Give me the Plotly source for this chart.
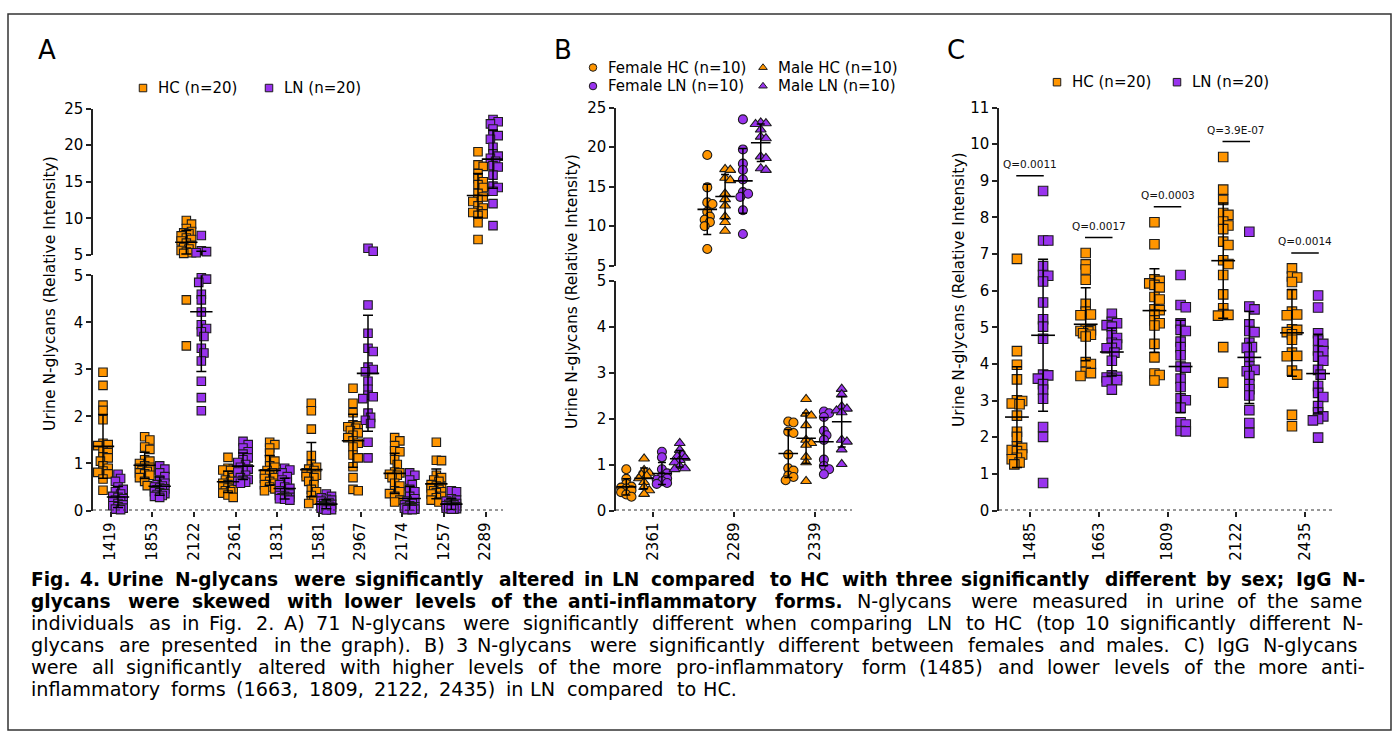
import numpy as np
import plotly.graph_objects as go

W, H = 1395, 741
FONT = "DejaVu Sans"
ORANGE = "#FF9500"
PURPLE = "#9933EE"
EDGE = "#1c1c1c"
AX = "#222222"

# ---------------- data : panel A ----------------
A_categories = ["1419", "1853", "2122", "2361", "1831", "1581", "2967", "2174", "1257", "2289"]
A_HC_1419 = [2.94, 2.66, 2.24, 2.13, 1.93, 1.43, 1.40, 1.38, 1.26, 1.23, 1.14, 1.12, 1.05, 0.95, 0.90, 0.84, 0.81, 0.78, 0.67, 0.43]
A_HC_1853 = [1.57, 1.50, 1.35, 1.30, 1.08, 1.05, 1.00, 0.95, 0.92, 0.90, 0.88, 0.86, 0.85, 0.83, 0.80, 0.78, 0.75, 0.70, 0.62, 0.53]
A_HC_2122 = [9.70, 9.20, 8.60, 8.20, 8.00, 7.90, 7.60, 7.30, 7.10, 6.90, 6.60, 6.30, 6.00, 5.80, 5.60, 5.40, 5.30, 5.20, 4.48, 3.50]
A_HC_2361 = [1.13, 0.90, 0.88, 0.86, 0.85, 0.75, 0.70, 0.65, 0.62, 0.58, 0.55, 0.52, 0.50, 0.48, 0.45, 0.42, 0.40, 0.37, 0.33, 0.28]
A_HC_1831 = [1.45, 1.40, 1.33, 1.22, 1.08, 1.05, 0.95, 0.92, 0.85, 0.80, 0.78, 0.75, 0.70, 0.68, 0.62, 0.58, 0.55, 0.50, 0.46, 0.42]
A_HC_1581 = [2.28, 2.12, 1.73, 1.17, 0.98, 0.92, 0.88, 0.85, 0.80, 0.77, 0.75, 0.72, 0.70, 0.62, 0.55, 0.45, 0.40, 0.32, 0.22, 0.15]
A_HC_2967 = [2.60, 2.28, 2.08, 1.82, 1.80, 1.78, 1.75, 1.70, 1.65, 1.60, 1.55, 1.48, 1.43, 1.35, 1.18, 1.12, 0.93, 0.70, 0.45, 0.42]
A_HC_2174 = [1.55, 1.48, 1.38, 1.27, 1.25, 1.08, 0.98, 0.82, 0.80, 0.77, 0.75, 0.70, 0.58, 0.52, 0.42, 0.40, 0.36, 0.30, 0.22, 0.18]
A_HC_1257 = [1.45, 1.07, 1.06, 0.75, 0.70, 0.65, 0.62, 0.55, 0.52, 0.50, 0.48, 0.45, 0.42, 0.40, 0.38, 0.35, 0.30, 0.27, 0.22, 0.18]
A_HC_2289 = [19.1, 17.3, 17.1, 16.1, 15.4, 15.0, 14.6, 14.2, 13.4, 12.9, 12.6, 12.3, 11.7, 11.4, 11.0, 10.8, 10.6, 10.4, 9.4, 7.1]

A_LN_1419 = [0.77, 0.68, 0.62, 0.50, 0.45, 0.40, 0.35, 0.30, 0.28, 0.25, 0.22, 0.20, 0.18, 0.15, 0.12, 0.10, 0.08, 0.05, 0.03, 0.02]
A_LN_1853 = [0.95, 0.88, 0.80, 0.72, 0.65, 0.58, 0.55, 0.52, 0.50, 0.48, 0.46, 0.44, 0.42, 0.40, 0.38, 0.36, 0.34, 0.32, 0.30, 0.28]
A_LN_2122 = [7.65, 5.55, 5.45, 5.30, 4.95, 4.92, 4.85, 4.60, 4.48, 4.22, 3.95, 3.87, 3.80, 3.70, 3.45, 3.35, 3.18, 2.75, 2.40, 2.12]
A_LN_2361 = [1.47, 1.40, 1.33, 1.25, 1.20, 1.12, 1.08, 1.02, 0.98, 0.92, 0.88, 0.85, 0.82, 0.75, 0.70, 0.66, 0.64, 0.62, 0.60, 0.58]
A_LN_1831 = [0.90, 0.86, 0.80, 0.72, 0.65, 0.60, 0.55, 0.50, 0.47, 0.42, 0.38, 0.35, 0.32, 0.30, 0.28, 0.27, 0.26, 0.25, 0.24, 0.22]
A_LN_1581 = [0.35, 0.30, 0.27, 0.24, 0.22, 0.20, 0.17, 0.15, 0.13, 0.12, 0.10, 0.09, 0.08, 0.07, 0.06, 0.05, 0.04, 0.03, 0.02, 0.01]
A_LN_2967 = [5.90, 5.50, 4.37, 3.77, 3.45, 3.38, 3.05, 3.00, 2.95, 2.75, 2.58, 2.45, 2.42, 2.38, 2.07, 1.98, 1.92, 1.85, 1.45, 1.12]
A_LN_2174 = [0.80, 0.75, 0.65, 0.55, 0.45, 0.40, 0.30, 0.25, 0.20, 0.15, 0.12, 0.10, 0.08, 0.07, 0.06, 0.05, 0.04, 0.03, 0.02, 0.02]
A_LN_1257 = [0.42, 0.40, 0.25, 0.22, 0.20, 0.18, 0.15, 0.13, 0.12, 0.10, 0.09, 0.08, 0.07, 0.06, 0.05, 0.05, 0.04, 0.04, 0.03, 0.03]
A_LN_2289 = [23.5, 23.2, 22.9, 22.2, 21.4, 21.3, 20.8, 19.7, 18.8, 18.5, 18.2, 17.8, 17.2, 17.0, 15.9, 14.4, 14.2, 13.7, 12.0, 9.0]

# ---------------- data : panel B ----------------
B_categories = ["2361", "2289", "2339"]
B_FHC_2361 = [0.90, 0.69, 0.58, 0.52, 0.50, 0.48, 0.44, 0.40, 0.35, 0.30]
B_MHC_2361 = [1.13, 0.88, 0.82, 0.78, 0.76, 0.70, 0.62, 0.51, 0.44, 0.36]
B_FLN_2361 = [1.28, 1.16, 0.90, 0.81, 0.74, 0.70, 0.67, 0.64, 0.60, 0.58]
B_MLN_2361 = [1.47, 1.32, 1.22, 1.18, 1.15, 1.10, 1.05, 0.97, 0.92, 0.90]
B_FHC_2289 = [19.0, 14.9, 13.0, 12.8, 11.8, 11.2, 10.8, 10.5, 10.0, 7.1]
B_MHC_2289 = [17.2, 17.1, 16.1, 15.8, 14.1, 13.4, 12.6, 11.2, 10.5, 9.4]
B_FLN_2289 = [23.5, 19.7, 17.9, 17.1, 15.9, 14.3, 14.1, 13.7, 12.0, 9.0]
B_MLN_2289 = [23.1, 23.0, 22.9, 22.2, 21.3, 21.1, 18.8, 18.6, 17.3, 17.1]
B_FHC_2339 = [1.94, 1.92, 1.72, 1.69, 1.22, 0.92, 0.87, 0.76, 0.73, 0.66]
B_MHC_2339 = [2.43, 2.11, 2.07, 1.86, 1.54, 1.47, 1.43, 1.17, 1.05, 0.64]
B_FLN_2339 = [2.16, 2.12, 2.04, 1.74, 1.64, 1.54, 1.11, 0.97, 0.90, 0.79]
B_MLN_2339 = [2.65, 2.53, 2.27, 2.22, 2.18, 2.14, 1.54, 1.50, 1.33, 1.01]

# ---------------- data : panel C ----------------
C_categories = ["1485", "1663", "1809", "2122", "2435"]
C_HC_1485 = [6.87, 4.35, 3.98, 3.58, 3.01, 2.99, 2.92, 2.90, 2.59, 2.15, 2.01, 1.75, 1.71, 1.65, 1.62, 1.53, 1.44, 1.40, 1.31, 1.26]
C_LN_1485 = [8.72, 7.37, 7.37, 6.67, 6.43, 6.41, 6.25, 5.68, 5.22, 5.02, 4.69, 3.71, 3.69, 3.60, 3.45, 3.30, 3.05, 2.28, 2.01, 0.75]
C_HC_1663 = [7.03, 6.72, 6.58, 6.30, 5.64, 5.43, 5.35, 5.33, 4.95, 4.92, 4.90, 4.89, 4.84, 4.80, 4.75, 4.05, 4.00, 3.78, 3.75, 3.67]
C_LN_1663 = [5.37, 5.15, 5.11, 5.06, 5.02, 4.78, 4.71, 4.58, 4.53, 4.44, 4.43, 4.31, 4.09, 3.69, 3.65, 3.63, 3.60, 3.56, 3.52, 3.30]
C_HC_1809 = [7.87, 7.27, 6.31, 6.27, 6.20, 6.16, 6.09, 5.83, 5.76, 5.49, 5.47, 5.35, 5.19, 5.11, 5.05, 4.55, 4.18, 3.74, 3.70, 3.55]
C_LN_1809 = [6.43, 5.61, 5.55, 5.11, 4.93, 4.90, 4.61, 4.46, 4.24, 3.93, 3.90, 3.60, 3.37, 3.06, 3.01, 2.81, 2.41, 2.35, 2.17, 2.16]
C_HC_2122 = [9.65, 8.76, 8.48, 8.12, 8.07, 7.89, 7.78, 7.68, 7.34, 7.25, 6.83, 6.73, 6.43, 5.90, 5.52, 5.36, 5.34, 5.32, 4.46, 3.49]
C_LN_2122 = [7.61, 5.57, 5.49, 5.08, 4.90, 4.87, 4.58, 4.46, 4.44, 4.20, 3.93, 3.84, 3.80, 3.67, 3.45, 3.31, 3.14, 2.74, 2.39, 2.12]
C_HC_2435 = [6.61, 6.39, 6.36, 6.24, 5.90, 5.43, 5.35, 5.33, 4.95, 4.93, 4.87, 4.81, 4.66, 4.31, 4.22, 4.21, 3.82, 3.71, 2.61, 2.30]
C_LN_2435 = [5.87, 5.54, 4.84, 4.64, 4.55, 4.37, 4.35, 4.20, 4.09, 3.84, 3.71, 3.40, 3.21, 3.10, 2.85, 2.68, 2.57, 2.50, 2.46, 1.99]
C_q_labels = ["Q=0.0011", "Q=0.0017", "Q=0.0003", "Q=3.9E-07", "Q=0.0014"]

Y_TITLE = "Urine N-glycans (Relative Intensity)"
CAPTION = [
    [("Fig. 4. Urine N-glycans were significantly altered in LN compared to HC with three significantly different by sex; IgG N-", True)],
    [("glycans were skewed with lower levels of the anti-inflammatory forms.", True),
     ("N-glycans were measured in urine of the same", False)],
    [("individuals as in Fig. 2. A) 71 N-glycans were significantly different when comparing LN to HC (top 10 significantly different N-", False)],
    [("glycans are presented in the graph). B) 3 N-glycans were significantly different between females and males. C) IgG N-glycans", False)],
    [("were all significantly altered with higher levels of the more pro-inflammatory form (1485) and lower levels of the more anti-", False)],
    [("inflammatory forms (1663, 1809, 2122, 2435) in LN compared to HC.", False)],
]

A_HC = [A_HC_1419, A_HC_1853, A_HC_2122, A_HC_2361, A_HC_1831, A_HC_1581, A_HC_2967, A_HC_2174, A_HC_1257, A_HC_2289]
A_LN = [A_LN_1419, A_LN_1853, A_LN_2122, A_LN_2361, A_LN_1831, A_LN_1581, A_LN_2967, A_LN_2174, A_LN_1257, A_LN_2289]
B_FHC = [B_FHC_2361, B_FHC_2289, B_FHC_2339]
B_MHC = [B_MHC_2361, B_MHC_2289, B_MHC_2339]
B_FLN = [B_FLN_2361, B_FLN_2289, B_FLN_2339]
B_MLN = [B_MLN_2361, B_MLN_2289, B_MLN_2339]
C_HC = [C_HC_1485, C_HC_1663, C_HC_1809, C_HC_2122, C_HC_2435]
C_LN = [C_LN_1485, C_LN_1663, C_LN_1809, C_LN_2122, C_LN_2435]

# ---------------- layout geometry (pixels) ----------------
def pxx(x):
    return x / W


def pxy(y):
    return 1 - y / H


A_XPX = (93, 503); A_LO = (273, 514); A_UP = (102, 252)
B_XPX = (616, 852); B_LO = (279, 514); B_UP = (101, 263)
C_XPX = (999, 1335); C_YPX = (101, 514)
A_XR = [-0.42, 9.42]
B_XR = [-0.457, 2.457]
C_XR = [-0.451, 4.436]
BREAK = 5.0


def xscale(xpx, xr):
    return (xpx[1] - xpx[0]) / (xr[1] - xr[0])


def make_ypx(lo, up, lo_rng, up_rng):
    def f(v):
        if up is None or v < up_rng[0]:
            return lo[1] - (v - lo_rng[0]) * (lo[1] - lo[0]) / (lo_rng[1] - lo_rng[0])
        return up[1] - (v - up_rng[0]) * (up[1] - up[0]) / (up_rng[1] - up_rng[0])
    return f


def swarm(vals, to_px, thresh=5.0, step=2.6, kmax=2):
    ypx = np.array([to_px(v) for v in vals])
    order = np.argsort(ypx)
    placed = []
    off = np.zeros(len(vals))
    cands = [0]
    for k in range(1, kmax + 1):
        cands += [k, -k]
    for i in order:
        best, bestd = 0.0, -1.0
        for k in cands:
            dx = k * step
            d = min([np.hypot(dx - a, ypx[i] - b) for a, b in placed], default=1e9)
            if d >= thresh:
                best, bestd = dx, d
                break
            if d > bestd:
                best, bestd = dx, d
        placed.append((best, ypx[i]))
        off[i] = best
    return off


fig = go.Figure()


def add_group(groups, offset, xsc, to_px, color, symbol, size, xa, ylo, yup):
    xs, ys = [], []
    for ci, vals in enumerate(groups):
        off = swarm(vals, to_px)
        for v, o in zip(vals, off):
            xs.append(ci + offset + o / xsc)
            ys.append(v)
    xs = np.array(xs); ys = np.array(ys)
    mk = dict(symbol=symbol, size=size, color=color, line=dict(color=EDGE, width=1.1))
    if yup is None:
        fig.add_trace(go.Scatter(x=xs, y=ys, mode="markers", marker=mk, xaxis=xa, yaxis=ylo,
                                 cliponaxis=False, hoverinfo="skip"))
    else:
        lo = ys < BREAK
        fig.add_trace(go.Scatter(x=xs[lo], y=ys[lo], mode="markers", marker=mk, xaxis=xa, yaxis=ylo,
                                 cliponaxis=False, hoverinfo="skip"))
        fig.add_trace(go.Scatter(x=xs[~lo], y=ys[~lo], mode="markers", marker=mk, xaxis=xa, yaxis=yup,
                                 cliponaxis=False, hoverinfo="skip"))


def add_meansd(groups, offset, xa, yaxes, meanw=16, capw=5):
    xs = [ci + offset for ci in range(len(groups))]
    means = [float(np.mean(g)) for g in groups]
    sds = [float(np.std(g, ddof=1)) for g in groups]
    for ya in yaxes:
        fig.add_trace(go.Scatter(
            x=xs, y=means, mode="markers", xaxis=xa, yaxis=ya, cliponaxis=True, hoverinfo="skip",
            marker=dict(symbol="line-ew", size=meanw, color="black", line=dict(color="black", width=1.6)),
            error_y=dict(type="data", array=sds, visible=True, color="black", thickness=1.5, width=capw)))


# ---- panel A ----
A_xsc = xscale(A_XPX, A_XR)
A_ypx = make_ypx(A_LO, A_UP, [0, 5], [5, 25])
add_group(A_HC, -0.18, A_xsc, A_ypx, ORANGE, "square", 8.5, "x", "y", "y2")
add_group(A_LN, 0.18, A_xsc, A_ypx, PURPLE, "square", 8.5, "x", "y", "y2")
add_meansd(A_HC, -0.18, "x", ["y", "y2"])
add_meansd(A_LN, 0.18, "x", ["y", "y2"])

# ---- panel B ----
B_xsc = xscale(B_XPX, B_XR)
B_ypx = make_ypx(B_LO, B_UP, [0, 5], [5, 25])
B_groups = [(B_FHC, -0.33, ORANGE, "circle"), (B_MHC, -0.11, ORANGE, "triangle-up"),
            (B_FLN, 0.11, PURPLE, "circle"), (B_MLN, 0.33, PURPLE, "triangle-up")]
for g, o, c, s in B_groups:
    add_group(g, o, B_xsc, B_ypx, c, s, 9 if s == "circle" else 9.5, "x2", "y3", "y4")
for g, o, c, s in B_groups:
    add_meansd(g, o, "x2", ["y3", "y4"], meanw=14, capw=4)

# ---- panel C ----
C_xsc = xscale(C_XPX, C_XR)
C_ypx = make_ypx(C_YPX, None, [0, 11], None)
add_group(C_HC, -0.19, C_xsc, C_ypx, ORANGE, "square", 9.5, "x3", "y5", None)
add_group(C_LN, 0.19, C_xsc, C_ypx, PURPLE, "square", 9.5, "x3", "y5", None)
add_meansd(C_HC, -0.19, "x3", ["y5"], meanw=17)
add_meansd(C_LN, 0.19, "x3", ["y5"], meanw=17)

annotations = []
for ci, lab in enumerate(C_q_labels):
    h = max(max(C_HC[ci]), max(C_LN[ci])) + 0.42
    fig.add_trace(go.Scatter(x=[ci - 0.2, ci + 0.2], y=[h, h], mode="lines", xaxis="x3", yaxis="y5",
                             line=dict(color="black", width=1.5), hoverinfo="skip", cliponaxis=False))
    annotations.append(dict(x=ci, y=h + 0.1, xref="x3", yref="y5", text=lab, showarrow=False,
                            yanchor="bottom", font=dict(family=FONT, size=10.5, color="#111")))

# ---- legends (overlay axis in pixel units) ----
LEG = [
    (143, 81, ORANGE, "square", "HC (n=20)"), (269, 81, PURPLE, "square", "LN (n=20)"),
    (593, 60, ORANGE, "circle", "Female HC (n=10)"), (763, 60, ORANGE, "triangle-up", "Male HC (n=10)"),
    (593, 79, PURPLE, "circle", "Female LN (n=10)"), (763, 79, PURPLE, "triangle-up", "Male LN (n=10)"),
    (1057, 75, ORANGE, "square", "HC (n=20)"), (1177, 75, PURPLE, "square", "LN (n=20)"),
]
for x, y, c, s, t in LEG:
    fig.add_trace(go.Scatter(x=[x], y=[y], mode="markers", xaxis="x4", yaxis="y6", hoverinfo="skip",
                             marker=dict(symbol=s, size=7.5, color=c, line=dict(color=EDGE, width=1))))
    annotations.append(dict(x=pxx(x + 14), y=pxy(y), xref="paper", yref="paper", text=t, showarrow=False,
                            xanchor="left", yanchor="middle", borderpad=0,
                            font=dict(family=FONT, size=15, color="black")))

# panel letters and axis titles
for lab, x in [("A", 47), ("B", 563), ("C", 956)]:
    annotations.append(dict(x=pxx(x), y=pxy(42), xref="paper", yref="paper", text=lab, showarrow=False,
                            xanchor="center", yanchor="middle", font=dict(family=FONT, size=26, color="black")))
for x, y in [(50, 292), (572, 290), (959, 288)]:
    annotations.append(dict(x=pxx(x), y=pxy(y), xref="paper", yref="paper", text=Y_TITLE, textangle=-90,
                            showarrow=False, xanchor="center", yanchor="middle",
                            font=dict(family=FONT, size=15.5, color="black")))

# ---- caption (justified, word by word) ----
def _tbl(spec):
    d = {}
    for chars, w in spec:
        for ch in chars:
            d[ch] = w
    return d


AR = _tbl([(" ,.:;!/[]\\fIt", 278), ("ijl", 222), ("()-r", 333), ("cksvxyzJ", 500),
           ("abdeghnopqu0123456789L?$#_", 556), ("=+<>~", 584), ("FTZ", 611), ("ABEKPSVXY&", 667),
           ("CDHNRUw", 722), ("GOQ", 778), ("Mm", 833), ("%", 889), ("W", 944)])
AB = _tbl([(" ,.!/[]\\Iijl", 278), ("()-ft:;", 333), ("r", 389), ("z", 500),
           ("acekvsxyJ0123456789?$#_", 556), ("=+<>~", 584), ("bdghnopquLFTZ", 611), ("EPSVXY", 667),
           ("ABCDHKNRU", 722), ("GOQw", 778), ("M", 833), ("m%", 889), ("W", 944)])
CAP_M = 23.4
CAP_L, CAP_R = 30, 1366
CAP_Y0, CAP_DY = 585, 22.5
CAP_FS_R, CAP_FS_B = 19.2, 18.6


def tw(word, bold):
    t = AB if bold else AR
    return sum(t.get(ch, 556) for ch in word) / 1000.0 * CAP_M


for li, segs in enumerate(CAPTION):
    words = []
    for text, bold in segs:
        for w in text.split(" "):
            if w:
                words.append((w, bold, tw(w, bold)))
    total = sum(w[2] for w in words)
    if li < len(CAPTION) - 1:
        gap = (CAP_R - CAP_L - total) / (len(words) - 1)
    else:
        gap = 0.278 * CAP_M
    x = CAP_L
    y = CAP_Y0 + li * CAP_DY
    for w, bold, wd in words:
        annotations.append(dict(x=pxx(x), y=pxy(y), xref="paper", yref="paper",
                                text=("<b>%s</b>" % w) if bold else w, showarrow=False,
                                xanchor="left", yanchor="middle", borderpad=0,
                                font=dict(family=FONT, size=CAP_FS_B if bold else CAP_FS_R, color="black")))
        x += wd + gap

# ---- axes ----
def yax(dom, rng, tickvals, anchor):
    return dict(domain=[pxy(dom[1]), pxy(dom[0])], range=rng, tickvals=tickvals, ticks="outside",
                ticklen=5, tickwidth=1.5, tickcolor=AX, showline=True, linecolor=AX, linewidth=1.5,
                showgrid=False, zeroline=False, anchor=anchor, fixedrange=True,
                tickfont=dict(family=FONT, size=15, color="black"))


def xax(dom, rng, labels, anchor):
    return dict(domain=[pxx(dom[0]), pxx(dom[1])], range=rng, tickvals=list(range(len(labels))),
                ticktext=labels, tickangle=-90, ticks="outside", ticklen=5, tickwidth=1.5, tickcolor=AX,
                showline=False, showgrid=False, zeroline=False, anchor=anchor, fixedrange=True,
                tickfont=dict(family=FONT, size=15, color="black"))


shapes = [dict(type="rect", xref="paper", yref="paper", x0=pxx(8), x1=pxx(1391), y0=pxy(5), y1=pxy(739),
               line=dict(color="#333", width=1.5))]
for xr, yr in [("x domain", "y"), ("x2 domain", "y3"), ("x3 domain", "y5")]:
    shapes.append(dict(type="line", xref=xr, yref=yr, x0=0, x1=1, y0=0, y1=0,
                       line=dict(color="#333", width=1.8, dash="dot")))

fig.update_layout(
    width=W, height=H, autosize=False, margin=dict(l=0, r=0, t=0, b=0),
    paper_bgcolor="white", plot_bgcolor="rgba(0,0,0,0)", showlegend=False,
    font=dict(family=FONT, color="black"),
    xaxis=xax(A_XPX, A_XR, A_categories, "y"),
    yaxis=yax(A_LO, [0, 5], [0, 1, 2, 3, 4, 5], "x"),
    yaxis2=yax(A_UP, [5, 25], [5, 10, 15, 20, 25], "x"),
    xaxis2=xax(B_XPX, B_XR, B_categories, "y3"),
    yaxis3=yax(B_LO, [0, 5], [0, 1, 2, 3, 4, 5], "x2"),
    yaxis4=yax(B_UP, [5, 25], [5, 10, 15, 20, 25], "x2"),
    xaxis3=xax(C_XPX, C_XR, C_categories, "y5"),
    yaxis5=yax(C_YPX, [0, 11], list(range(12)), "x3"),
    xaxis4=dict(domain=[0, 1], range=[0, W], visible=False, anchor="y6", fixedrange=True),
    yaxis6=dict(domain=[0, 1], range=[H, 0], visible=False, anchor="x4", fixedrange=True),
    annotations=annotations, shapes=shapes,
)

fig.write_html("out.html")
